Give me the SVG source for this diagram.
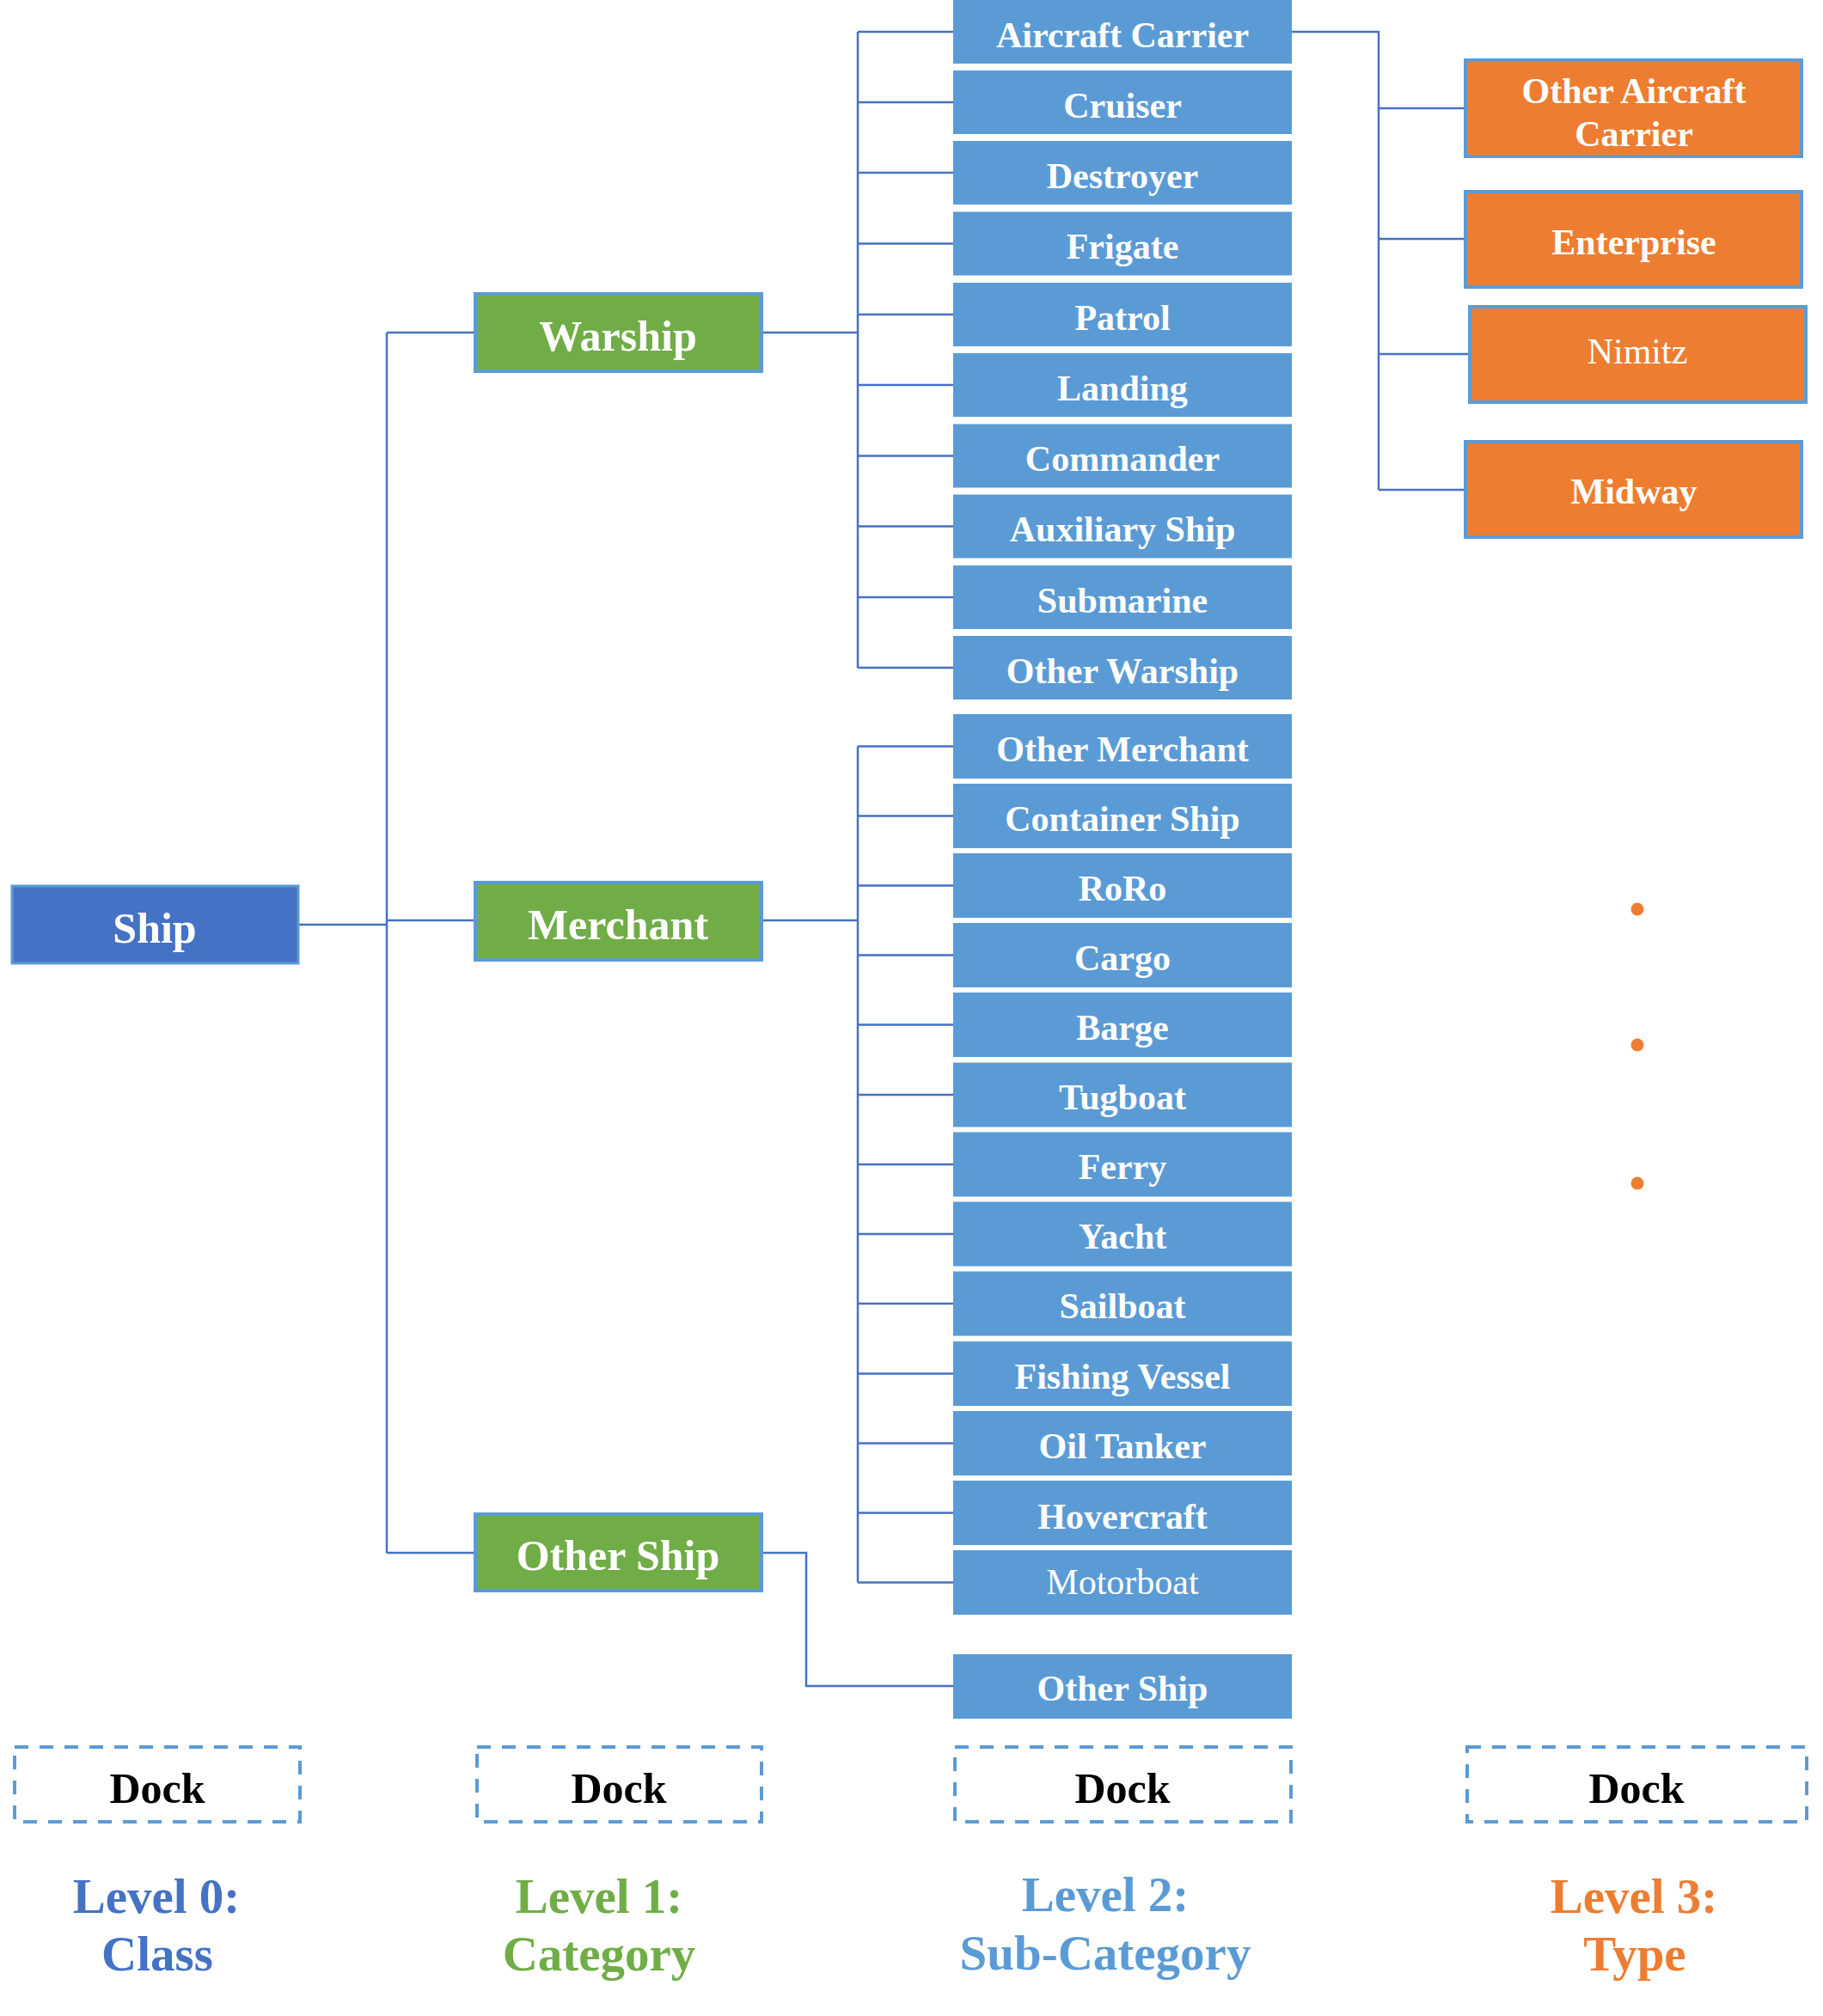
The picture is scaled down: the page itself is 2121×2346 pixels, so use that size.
<svg xmlns="http://www.w3.org/2000/svg" width="2121" height="2346" viewBox="0 0 2121 2346">
<style>
text{font-family:"Liberation Serif","Times New Roman",serif;text-anchor:middle;font-weight:bold;fill:#fff}
.l0{fill:#4472C4;stroke:#5B9BD5;stroke-width:3}
.l1{fill:#70AD47;stroke:#5B9BD5;stroke-width:4}
.l2{fill:#5B9BD5}
.l3{fill:#ED7D31;stroke:#5B9BD5;stroke-width:4}
.big{font-size:50px}
.mid{font-size:42px}
.reg{font-weight:normal}
.con{fill:none;stroke:#4472C4;stroke-width:2.5}
.dock{fill:none;stroke:#5B9BD5;stroke-width:4;stroke-dasharray:16 13}
.dt{fill:#000;font-size:50px}
.lv{font-size:57px}
</style>
<rect width="2121" height="2346" fill="#fff"/>
<g id="connectors" class="con">
<path d="M347 1076H450M450 387V1807M450 387H553M450 1071H553M450 1807H553"/>
<path d="M886 387H998M998 37V777M998 37H1109M998 119H1109M998 201H1109M998 283.5H1109M998 366H1109M998 448H1109M998 530.5H1109M998 612.5H1109M998 695H1109M998 777H1109"/>
<path d="M886 1071H998M998 868.5V1841.5M998 868.5H1109M998 949.5H1109M998 1030.5H1109M998 1111.5H1109M998 1192.5H1109M998 1274H1109M998 1355H1109M998 1436H1109M998 1517H1109M998 1598.5H1109M998 1679.5H1109M998 1760.5H1109M998 1841.5H1109"/>
<path d="M886 1807H938V1962H1109"/>
<path d="M1503 37H1604V570M1604 126H1705M1604 278H1705M1604 412H1710M1604 570H1705"/>
</g>
<g id="ship"><rect class="l0" x="14" y="1031" width="333" height="90"/><text class="big" x="180" y="1097">Ship</text></g>
<g id="warship"><rect class="l1" x="553" y="342" width="333" height="90"/><text class="big" x="719" y="408">Warship</text></g>
<g id="merchant"><rect class="l1" x="553" y="1027" width="333" height="90"/><text class="big" x="719" y="1093">Merchant</text></g>
<g id="other-ship"><rect class="l1" x="553" y="1762" width="333" height="89"/><text class="big" x="719" y="1827">Other Ship</text></g>
<g id="aircraft-carrier"><rect class="l2" x="1109" y="0" width="394" height="74"/><text class="mid" x="1306" y="54.5">Aircraft Carrier</text></g>
<g id="cruiser"><rect class="l2" x="1109" y="82" width="394" height="74"/><text class="mid" x="1306" y="136.5">Cruiser</text></g>
<g id="destroyer"><rect class="l2" x="1109" y="164" width="394" height="74"/><text class="mid" x="1306" y="218.5">Destroyer</text></g>
<g id="frigate"><rect class="l2" x="1109" y="246.5" width="394" height="74"/><text class="mid" x="1306" y="301">Frigate</text></g>
<g id="patrol"><rect class="l2" x="1109" y="329" width="394" height="74"/><text class="mid" x="1306" y="383.5">Patrol</text></g>
<g id="landing"><rect class="l2" x="1109" y="411" width="394" height="74"/><text class="mid" x="1306" y="465.5">Landing</text></g>
<g id="commander"><rect class="l2" x="1109" y="493.5" width="394" height="74"/><text class="mid" x="1306" y="548">Commander</text></g>
<g id="auxiliary-ship"><rect class="l2" x="1109" y="575.5" width="394" height="74"/><text class="mid" x="1306" y="630">Auxiliary Ship</text></g>
<g id="submarine"><rect class="l2" x="1109" y="658" width="394" height="74"/><text class="mid" x="1306" y="712.5">Submarine</text></g>
<g id="other-warship"><rect class="l2" x="1109" y="740" width="394" height="74"/><text class="mid" x="1306" y="794.5">Other Warship</text></g>
<g id="other-merchant"><rect class="l2" x="1109" y="831" width="394" height="75"/><text class="mid" x="1306" y="885.5">Other Merchant</text></g>
<g id="container-ship"><rect class="l2" x="1109" y="912" width="394" height="75"/><text class="mid" x="1306" y="966.5">Container Ship</text></g>
<g id="roro"><rect class="l2" x="1109" y="993" width="394" height="75"/><text class="mid" x="1306" y="1047.5">RoRo</text></g>
<g id="cargo"><rect class="l2" x="1109" y="1074" width="394" height="75"/><text class="mid" x="1306" y="1128.5">Cargo</text></g>
<g id="barge"><rect class="l2" x="1109" y="1155" width="394" height="75"/><text class="mid" x="1306" y="1209.5">Barge</text></g>
<g id="tugboat"><rect class="l2" x="1109" y="1236.5" width="394" height="75"/><text class="mid" x="1306" y="1291">Tugboat</text></g>
<g id="ferry"><rect class="l2" x="1109" y="1317.5" width="394" height="75"/><text class="mid" x="1306" y="1372">Ferry</text></g>
<g id="yacht"><rect class="l2" x="1109" y="1398.5" width="394" height="75"/><text class="mid" x="1306" y="1453">Yacht</text></g>
<g id="sailboat"><rect class="l2" x="1109" y="1479.5" width="394" height="75"/><text class="mid" x="1306" y="1534">Sailboat</text></g>
<g id="fishing-vessel"><rect class="l2" x="1109" y="1561" width="394" height="75"/><text class="mid" x="1306" y="1615.5">Fishing Vessel</text></g>
<g id="oil-tanker"><rect class="l2" x="1109" y="1642" width="394" height="75"/><text class="mid" x="1306" y="1696.5">Oil Tanker</text></g>
<g id="hovercraft"><rect class="l2" x="1109" y="1723" width="394" height="75"/><text class="mid" x="1306" y="1778.5">Hovercraft</text></g>
<g id="motorboat"><rect class="l2" x="1109" y="1804" width="394" height="75"/><text class="mid reg" x="1306" y="1855">Motorboat</text></g>
<g id="other-ship-sub"><rect class="l2" x="1109" y="1925" width="394" height="75"/><text class="mid" x="1306" y="1979">Other Ship</text></g>
<g id="other-aircraft-carrier"><rect class="l3" x="1705" y="70" width="391" height="112"/><text class="mid" x="1901" y="120">Other Aircraft</text><text class="mid" x="1901" y="170">Carrier</text></g>
<g id="enterprise"><rect class="l3" x="1705" y="223" width="391" height="111"/><text class="mid" x="1901" y="296">Enterprise</text></g>
<g id="nimitz"><rect class="l3" x="1710" y="357" width="391" height="111"/><text class="mid reg" x="1905" y="423">Nimitz</text></g>
<g id="midway"><rect class="l3" x="1705" y="514" width="391" height="111"/><text class="mid" x="1901" y="586">Midway</text></g>
<g id="ellipsis" fill="#ED7D31">
<circle cx="1905" cy="1058" r="7.5"/><circle cx="1905" cy="1216" r="7.5"/><circle cx="1905" cy="1377" r="7.5"/>
</g>
<g id="dock-0"><rect class="dock" x="17" y="2033" width="332" height="87"/><text class="dt" x="183" y="2098">Dock</text></g>
<g id="dock-1"><rect class="dock" x="555" y="2033" width="331" height="87"/><text class="dt" x="720" y="2098">Dock</text></g>
<g id="dock-2"><rect class="dock" x="1111" y="2033" width="391" height="87"/><text class="dt" x="1306" y="2098">Dock</text></g>
<g id="dock-3"><rect class="dock" x="1707" y="2033" width="395" height="87"/><text class="dt" x="1904" y="2098">Dock</text></g>
<g id="level-labels" class="lv">
<text x="182" y="2226" style="fill:#4472C4">Level 0:</text><text x="183" y="2293" style="fill:#4472C4">Class</text>
<text x="697" y="2226" style="fill:#70AD47">Level 1:</text><text x="697" y="2293" style="fill:#70AD47">Category</text>
<text x="1286" y="2224" style="fill:#5B9BD5">Level 2:</text><text x="1286" y="2292" style="fill:#5B9BD5">Sub-Category</text>
<text x="1901" y="2226" style="fill:#ED7D31">Level 3:</text><text x="1902" y="2293" style="fill:#ED7D31">Type</text>
</g>
</svg>
